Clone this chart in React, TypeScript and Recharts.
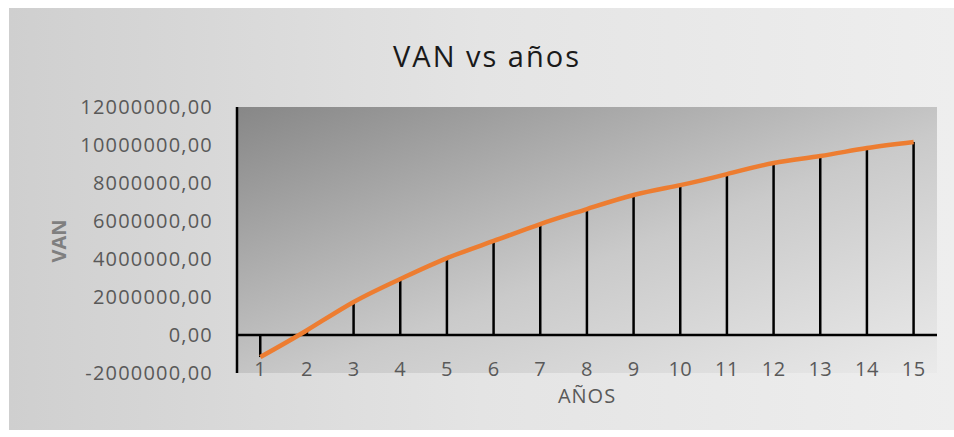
import { ComposedChart, Bar, Line, XAxis, YAxis, CartesianGrid, ReferenceLine } from 'recharts';

const years = ['1', '2', '3', '4', '5', '6', '7', '8', '9', '10', '11', '12', '13', '14', '15'];
const van = [-1160000, 250000, 1740000, 2950000, 4050000, 4950000, 5840000, 6630000, 7370000, 7890000, 8470000, 9050000, 9420000, 9840000, 10160000];
const yTicks = [-2000000, 0, 2000000, 4000000, 6000000, 8000000, 10000000, 12000000];

const data = years.map((y, i) => ({ year: y, van: van[i] }));

const font = '"Open Sans", sans-serif';

const fmt = (v: number) => v.toFixed(2).replace('.', ',');

function YTick(props: any) {
  const { x, y, payload } = props;
  return (
    <text x={x} y={y} dy="0.36em" textAnchor="end" fill="#595959" fontSize={20} fontFamily={font} letterSpacing={1.2}>
      {fmt(payload.value)}
    </text>
  );
}

function XTick(props: any) {
  const { x, y, payload } = props;
  return (
    <text x={x} y={y + 1} textAnchor="middle" fill="#595959" fontSize={20} fontFamily={font} letterSpacing={0.5}>
      {payload.value}
    </text>
  );
}

export default function App() {
  return (
    <div style={{ position: 'absolute', left: 0, top: 0, width: 954, height: 437, background: '#fff' }}>
      <div
        style={{
          position: 'absolute',
          left: 9,
          top: 8,
          width: 945,
          height: 422,
          background: 'linear-gradient(90deg, #cfcfcf 0%, #e4e4e4 50%, #eeeeee 100%)',
        }}
      />
      <div style={{ position: 'absolute', left: 0, top: 0 }}>
        <ComposedChart width={954} height={437} data={data} margin={{ top: 107, right: 17, left: 0, bottom: 34 }}>
          <defs>
            <linearGradient id="plotBg" x1="0" y1="0" x2="1" y2="1">
              <stop offset="0%" stopColor="#878787" />
              <stop offset="55%" stopColor="#cacaca" />
              <stop offset="100%" stopColor="#eaeaea" />
            </linearGradient>
          </defs>
          <CartesianGrid horizontal={false} vertical={false} fill="url(#plotBg)" />
          <XAxis
            dataKey="year"
            axisLine={false}
            tickLine={false}
            tickSize={0}
            height={30}
            interval={0}
            tick={<XTick />}
          />
          <YAxis
            width={237}
            domain={[-2000000, 12000000]}
            ticks={yTicks}
            axisLine={{ stroke: '#000', strokeWidth: 2.5 }}
            tickLine={false}
            tickSize={0}
            tickMargin={24}
            tick={<YTick />}
          />
          <ReferenceLine y={0} stroke="#000" strokeWidth={2.5} />
          <Bar dataKey="van" barSize={2.5} fill="#000" isAnimationActive={false} />
          <Line type="natural" dataKey="van" stroke="#ED7D31" strokeWidth={4.5} dot={false} isAnimationActive={false} />
        </ComposedChart>
      </div>
      <svg width={954} height={437} style={{ position: 'absolute', left: 0, top: 0, pointerEvents: 'none' }}>
        <text x={487} y={67} textAnchor="middle" fill="#1a1a1a" fontSize={29} fontFamily={font} letterSpacing={2}>
          VAN vs años
        </text>
        <text x={587} y={403} textAnchor="middle" fill="#595959" fontSize={20} fontFamily={font} letterSpacing={1}>
          AÑOS
        </text>
        <text
          transform="translate(66,241) rotate(-90)"
          textAnchor="middle"
          fill="#7f7f7f"
          fontSize={20}
          fontWeight="bold"
          fontFamily={font}
        >
          VAN
        </text>
      </svg>
    </div>
  );
}
